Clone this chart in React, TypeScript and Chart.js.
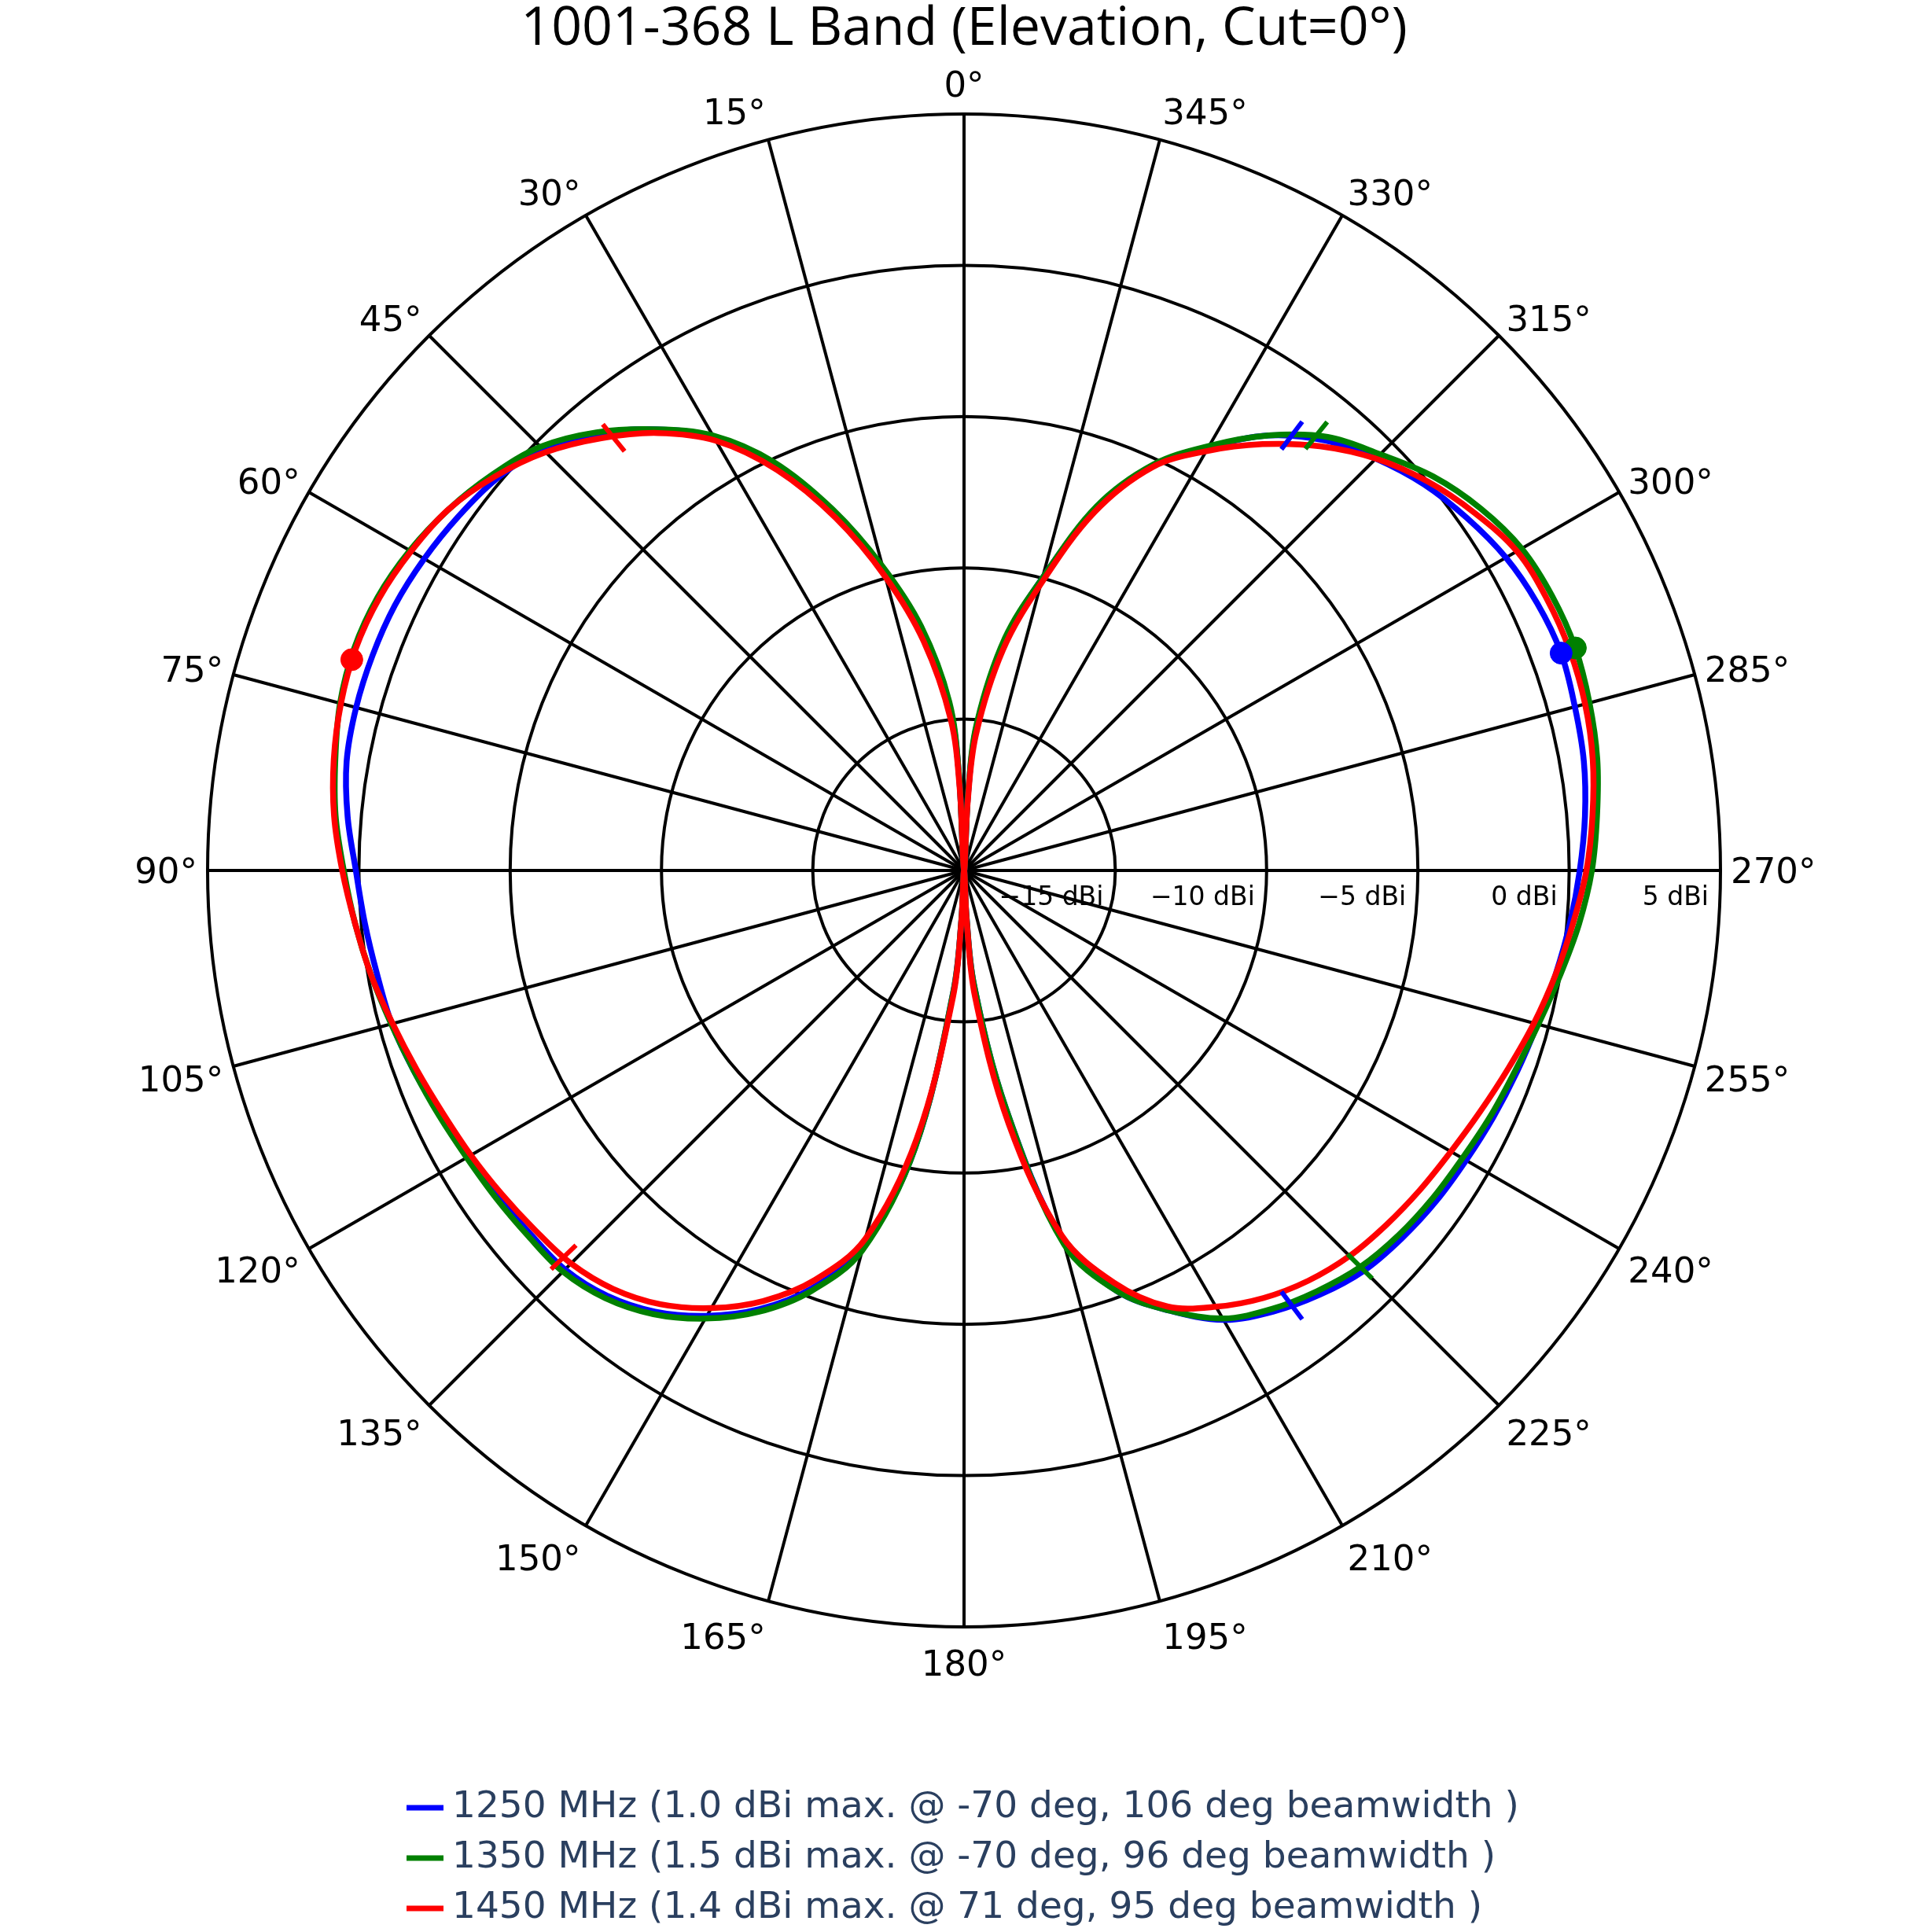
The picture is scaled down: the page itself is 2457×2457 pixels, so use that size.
import React, { useEffect, useRef } from 'react';
import { Chart, registerables } from 'chart.js';

Chart.register(...registerables);

const TITLE = '1001-368 L Band (Elevation, Cut=0°)';

// Pattern sample angles, degrees counter-clockwise from the top (0°).
const SAMPLE_ANGLES = [
  0, 3, 5, 10, 15, 20, 25, 30, 35, 40, 45, 50, 55, 60, 65, 70, 75, 80, 85,
  90, 95, 100, 105, 110, 115, 120, 125, 130, 135, 140, 145, 150, 155, 160, 165, 170, 175, 177,
  180, 183, 185, 190, 195, 200, 205, 210, 215, 220, 225, 230, 235, 240, 245, 250, 255, 260, 265,
  270, 275, 280, 285, 290, 295, 300, 305, 310, 315, 320, 325, 330, 335, 340, 345, 350, 355, 357,
];

// Gain in dBi at each sample angle.
const GAIN_1250 = [
  -20, -16.9, -14.6, -12.0, -9.7, -7.4, -5.2, -3.45, -2.2, -1.15, -0.3, 0.15, 0.4, 0.6, 0.75, 0.8, 0.8, 0.72, 0.45,
  0.1, -0.12, -0.3, -0.42, -0.65, -0.9, -1.1, -1.2, -1.3, -1.35, -1.65, -2.2, -3.0, -4.0, -5.3, -7.1, -10.7, -16.0, -18.4,
  -20, -18.5, -16.2, -12.0, -7.3, -5.2, -3.95, -2.85, -2.2, -1.7, -1.3, -1.1, -0.95, -0.84, -0.7, -0.55, -0.38, -0.15, 0.1,
  0.35, 0.6, 0.8, 0.9, 1.0, 0.9, 0.68, 0.3, -0.15, -0.75, -1.45, -2.45, -3.85, -5.25, -7.3, -10.0, -12.3, -15.2, -17.5,
];
const GAIN_1350 = [
  -20, -16.8, -14.4, -11.8, -9.6, -7.3, -5.1, -3.4, -2.2, -1.1, -0.2, 0.35, 0.8, 1.15, 1.38, 1.45, 1.35, 1.1, 0.85,
  0.5, 0.2, -0.1, -0.4, -0.65, -0.85, -1.02, -1.12, -1.2, -1.25, -1.55, -2.1, -2.9, -3.9, -5.2, -7.0, -10.7, -16.0, -18.4,
  -20, -18.5, -16.2, -12.0, -7.2, -5.2, -3.95, -2.9, -2.3, -1.85, -1.47, -1.25, -1.1, -0.98, -0.8, -0.62, -0.35, 0.0, 0.4,
  0.75, 1.0, 1.25, 1.4, 1.5, 1.45, 1.28, 0.85, 0.25, -0.55, -1.3, -2.45, -3.8, -5.2, -7.2, -10.0, -12.2, -15.1, -17.4,
];
const GAIN_1450 = [
  -20, -17.3, -15.0, -12.3, -9.95, -7.6, -5.4, -3.6, -2.35, -1.35, -0.45, 0.25, 0.8, 1.1, 1.32, 1.4, 1.32, 1.15, 0.9,
  0.55, 0.2, -0.1, -0.45, -0.75, -1.0, -1.18, -1.35, -1.5, -1.63, -1.95, -2.5, -3.3, -4.3, -5.6, -7.4, -11.0, -15.8, -18.3,
  -20, -18.3, -15.8, -11.5, -7.5, -5.5, -4.1, -3.35, -2.75, -2.3, -1.98, -1.78, -1.6, -1.42, -1.17, -0.86, -0.5, -0.15, 0.2,
  0.57, 0.85, 1.1, 1.25, 1.3, 1.25, 1.1, 0.6, 0.0, -0.75, -1.7, -2.8, -4.0, -5.3, -7.4, -10.2, -12.6, -15.5, -17.8,
];

const SERIES_LABELS = [
  '1250 MHz (1.0 dBi max. @ -70 deg, 106 deg beamwidth )',
  '1350 MHz (1.5 dBi max. @ -70 deg, 96 deg beamwidth )',
  '1450 MHz (1.4 dBi max. @ 71 deg, 95 deg beamwidth )',
];
const SERIES_COLORS = ['#0000ff', '#008000', '#ff0000'];
const SERIES_GAINS = [GAIN_1250, GAIN_1350, GAIN_1450];

// Peak marker and half-power (-3 dB) edges for each series.
const PEAK_ANGLES = [290, 290, 71];
const PEAK_GAINS = [1.0, 1.5, 1.4];
const HALF_POWER_ANGLES = [
  [323, 217],
  [321, 225],
  [39, 134],
];

const ANGLE_TICKS = [0, 15, 30, 45, 60, 75, 90, 105, 120, 135, 150, 165, 180, 195, 210, 225, 240, 255, 270, 285, 300, 315, 330, 345];
const GAIN_TICKS = [-15, -10, -5, 0, 5];
const GAIN_MIN = -20;
const GAIN_MAX = 5;

const SIZE = 2457;
const LEGEND_ROW_Y = [2299, 2363, 2427];

// One radar category per degree; index i sits at (360 - i)° so angles run counter-clockwise.
const angleToIndex = (a: number) => (((360 - Math.round(a)) % 360) + 360) % 360;
const RADAR_LABELS = Array.from({ length: 360 }, (_, i) => `${(360 - i) % 360}°`);

function spread(angles: number[], values: number[]) {
  const out: (number | null)[] = new Array(360).fill(null);
  angles.forEach((a, k) => {
    out[angleToIndex(a)] = values[k];
  });
  return out;
}

// vertical shift of an angular label relative to its anchor (positive = down)
function labelShift(a: number) {
  const c = Math.cos((a * Math.PI) / 180);
  if (c >= 0) return -c * (14 + 11 * Math.pow(c, 4));
  return 33 * Math.pow(-c, 0.7);
}

const polarDecor = {
  id: 'polarDecor',
  afterDraw(chart: any) {
    const { ctx } = chart;
    const r = chart.scales.r;
    ctx.save();

    // angular tick labels
    ctx.font = '45px "DejaVu Sans"';
    ctx.fillStyle = '#000';
    ctx.textBaseline = 'middle';
    for (const a of ANGLE_TICKS) {
      const p = r.getPointPosition(angleToIndex(a), r.drawingArea + 13);
      ctx.textAlign = a === 0 || a === 180 ? 'center' : a < 180 ? 'right' : 'left';
      ctx.fillText(`${a}°`, p.x, p.y + labelShift(a) + 4);
    }

    // radial tick labels along the 270° spoke
    ctx.font = '33px "DejaVu Sans"';
    ctx.textAlign = 'right';
    for (const v of GAIN_TICKS) {
      const p = r.getPointPosition(angleToIndex(270), r.getDistanceFromCenterForValue(v));
      const txt = `${v < 0 ? '\u2212' + Math.abs(v) : v} dBi`;
      ctx.fillText(txt, p.x - 15, r.yCenter + 35);
    }

    // legend
    ctx.font = '47px "DejaVu Sans"';
    ctx.textAlign = 'left';
    SERIES_LABELS.forEach((label, k) => {
      const y = LEGEND_ROW_Y[k];
      ctx.strokeStyle = SERIES_COLORS[k];
      ctx.lineWidth = 7;
      ctx.beginPath();
      ctx.moveTo(517, y);
      ctx.lineTo(564, y);
      ctx.stroke();
      ctx.fillStyle = '#2a3f5f';
      ctx.fillText(label, 575, y);
    });

    ctx.restore();
  },
};

function buildConfig(): any {
  const curves = SERIES_GAINS.map((g, k) => ({
    label: SERIES_LABELS[k],
    data: spread(SAMPLE_ANGLES, g),
    borderColor: SERIES_COLORS[k],
    backgroundColor: 'transparent',
    borderWidth: 7.5,
    pointRadius: 0,
    fill: false,
    tension: 0.35,
    spanGaps: true,
    order: 3 - k,
  }));

  const halfPower = HALF_POWER_ANGLES.map((edges, k) => ({
    label: `${SERIES_LABELS[k]} -3 dB`,
    data: spread(edges, edges.map(() => PEAK_GAINS[k] - 3)),
    showLine: false,
    pointStyle: 'line',
    pointRadius: 22,
    pointBorderWidth: 6,
    pointBorderColor: SERIES_COLORS[k],
    pointBackgroundColor: SERIES_COLORS[k],
    pointRotation: (c: any) => c.dataIndex - 90,
    order: 0,
  }));

  const peaks = PEAK_ANGLES.map((a, k) => ({
    label: `${SERIES_LABELS[k]} peak`,
    data: spread([a], [PEAK_GAINS[k]]),
    showLine: false,
    pointStyle: 'circle',
    pointRadius: 14,
    pointBorderWidth: 1,
    pointBorderColor: SERIES_COLORS[k],
    pointBackgroundColor: SERIES_COLORS[k],
    order: 0,
  }));

  return {
    type: 'radar',
    data: { labels: RADAR_LABELS, datasets: [...curves, ...halfPower, ...peaks] },
    options: {
      responsive: false,
      maintainAspectRatio: false,
      animation: false,
      events: [],
      layout: { padding: { left: 264, right: 269, top: 0, bottom: 388 } },
      plugins: {
        legend: { display: false },
        tooltip: { enabled: false },
        title: {
          display: true,
          text: TITLE,
          color: '#000',
          font: { family: '"Open Sans"', size: 68, weight: 'normal', lineHeight: '76px' },
          padding: { top: 0, bottom: 69 },
        },
      },
      scales: {
        r: {
          min: GAIN_MIN,
          max: GAIN_MAX,
          startAngle: 0,
          ticks: { display: false, stepSize: 5 },
          grid: { circular: true, color: '#000', lineWidth: 4 },
          angleLines: {
            display: true,
            color: '#000',
            lineWidth: (c: any) => (c.index % 15 === 0 ? 4 : 0),
          },
          pointLabels: { display: false },
        },
      },
    },
    plugins: [polarDecor],
  };
}

export default function App() {
  const canvasRef = useRef<HTMLCanvasElement>(null);

  useEffect(() => {
    let chart: Chart | null = null;
    let cancelled = false;
    const make = () => {
      if (cancelled || !canvasRef.current) return;
      chart = new Chart(canvasRef.current, buildConfig());
    };
    const fonts = ['45px "DejaVu Sans"', '68px "Open Sans"'];
    Promise.all(fonts.map((f) => document.fonts.load(f))).then(make, make);
    return () => {
      cancelled = true;
      if (chart) chart.destroy();
    };
  }, []);

  return (
    <div style={{ position: 'fixed', left: 0, top: 0, width: SIZE, height: SIZE, background: '#fff' }}>
      <canvas ref={canvasRef} width={SIZE} height={SIZE} style={{ display: 'block', width: SIZE, height: SIZE }} />
    </div>
  );
}
